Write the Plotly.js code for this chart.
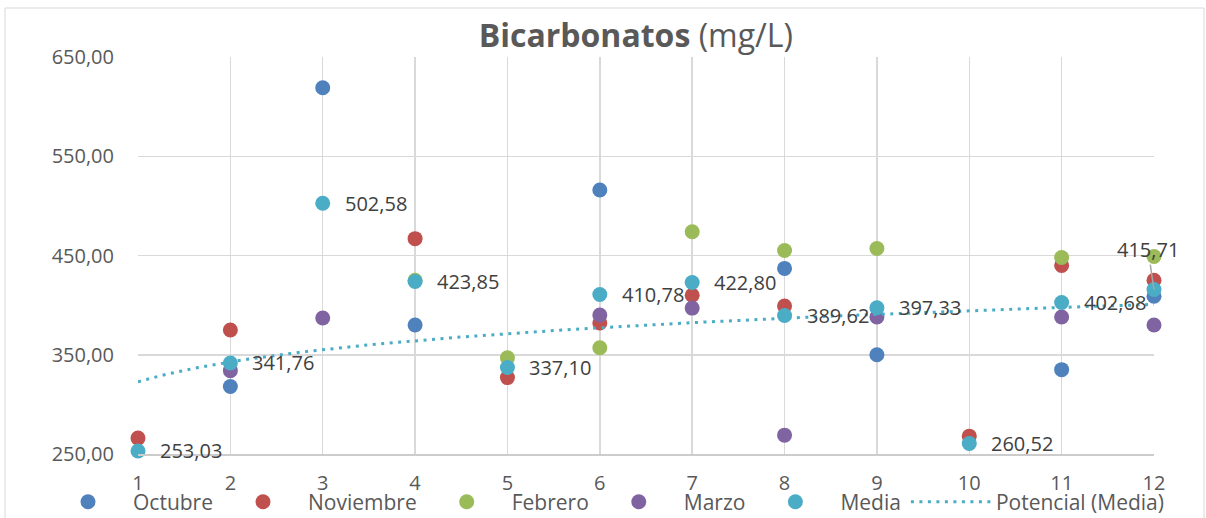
<!DOCTYPE html>
<html>
<head>
<meta charset="utf-8">
<script src="https://cdn.plot.ly/plotly-3.0.1.min.js"></script>
<style>
  html, body { margin: 0; padding: 0; background: #ffffff; }
  #chart { width: 1206px; height: 518px; }
</style>
</head>
<body>
<div id="chart"></div>
<script>
// ---- data ----
const meses = [1, 2, 3, 4, 5, 6, 7, 8, 9, 10, 11, 12];
const octubre   = [null, 318, 619, 380, null, 516, null, 437, 350, null, 335, 409];
const noviembre = [266, 375, null, 467, 327, 382, 410, 399, null, 268, 440, 425];
const febrero   = [null, null, null, 425, 347, 357, 474, 455, 457, null, 448, 449];
const marzo     = [null, 334, 387, null, null, 390, 397, 269, 388, null, 388, 380];
const media     = [253.03, 341.76, 502.58, 423.85, 337.10, 410.78, 422.80, 389.62, 397.33, 260.52, 402.68, 415.71];
const seriesNames = ['Octubre', 'Noviembre', 'Febrero', 'Marzo', 'Media'];
const trendName = 'Potencial (Media)';
const yTicks = [250, 350, 450, 550, 650];

// ---- power trendline (least squares in log space, as Excel does) ----
const lx = meses.map(Math.log), ly = media.map(Math.log);
const n = lx.length;
const mx = lx.reduce((a, b) => a + b, 0) / n, my = ly.reduce((a, b) => a + b, 0) / n;
let sxy = 0, sxx = 0;
for (let i = 0; i < n; i++) { sxy += (lx[i] - mx) * (ly[i] - my); sxx += (lx[i] - mx) ** 2; }
const bExp = sxy / sxx, aCoef = Math.exp(my - bExp * mx);
const tx = [], ty = [];
for (let k = 0; k <= 220; k++) { const x = 1 + k * 11 / 220; tx.push(x); ty.push(aCoef * Math.pow(x, bExp)); }

const colors = ['#4F81BD', '#C0504D', '#9BBB59', '#8064A2', '#4BACC6'];
const FONT = '"Open Sans", "Noto Sans", sans-serif';

const dataSets = [octubre, noviembre, febrero, marzo, media];
const traces = dataSets.map((ys, i) => ({
  x: meses, y: ys, name: seriesNames[i], type: 'scatter', mode: 'markers',
  marker: { color: colors[i], size: 15 }, cliponaxis: false, hoverinfo: 'x+y'
}));
traces.push({
  x: tx, y: ty, name: trendName, type: 'scatter', mode: 'lines',
  line: { color: '#4BACC6', width: 3, dash: '3px,5.5px' }, hoverinfo: 'skip'
});

const fmt = v => v.toFixed(2).replace('.', ',');
const annotations = media.map((v, i) => {
  if (i === media.length - 1) {
    return { x: meses[i], y: v, text: fmt(v), showarrow: true, arrowhead: 0, arrowwidth: 1.5,
             arrowcolor: '#a6a6a6', ax: -6, ay: -40, font: { family: FONT, size: 20, color: '#404040' } };
  }
  return { x: meses[i], y: v, text: fmt(v), showarrow: false, xanchor: 'left', yanchor: 'middle',
           xshift: 20, font: { family: FONT, size: 20, color: '#404040' } };
});

const layout = {
  width: 1206, height: 518,
  margin: { l: 138, r: 52, t: 57, b: 64, autoexpand: false },
  paper_bgcolor: '#ffffff', plot_bgcolor: '#ffffff',
  separators: ',.',
  font: { family: FONT, size: 20, color: '#595959' },
  title: {
    text: '<b>Bicarbonatos</b> (mg/L)',
    font: { family: FONT, size: 32, color: '#595959' },
    x: 0.49, xref: 'paper', xanchor: 'center',
    y: 1 - 36 / 518, yref: 'container', yanchor: 'middle'
  },
  xaxis: {
    range: [1, 12], tickvals: meses, ticktext: meses.map(String),
    showgrid: true, gridcolor: '#d9d9d9', gridwidth: 1.5, zeroline: false,
    showline: true, linecolor: '#cccccc', linewidth: 2,
    ticks: '', ticklabelstandoff: 10,
    tickfont: { family: FONT, size: 20, color: '#595959' }
  },
  yaxis: {
    range: [250, 650], tickvals: yTicks, tickformat: '.2f',
    showgrid: true, gridcolor: '#d9d9d9', gridwidth: 1.5, zeroline: false,
    showline: false, ticks: '', ticklabelstandoff: 23,
    tickfont: { family: FONT, size: 20, color: '#595959' }
  },
  legend: {
    orientation: 'h', x: -0.0935, xanchor: 'left', y: -0.121, yanchor: 'middle',
    itemwidth: 80, bgcolor: 'rgba(0,0,0,0)',
    font: { family: FONT, size: 21, color: '#595959' }
  },
  annotations: annotations,
  shapes: [{
    type: 'rect', xref: 'paper', yref: 'paper', x0: -0.1309, x1: 1.0492, y0: -0.19, y1: 1.1234,
    line: { color: '#d9d9d9', width: 1 }, fillcolor: 'rgba(0,0,0,0)', layer: 'below'
  }],
  showlegend: true
};

Plotly.newPlot('chart', traces, layout, { displayModeBar: false, staticPlot: true });
</script>
</body>
</html>
